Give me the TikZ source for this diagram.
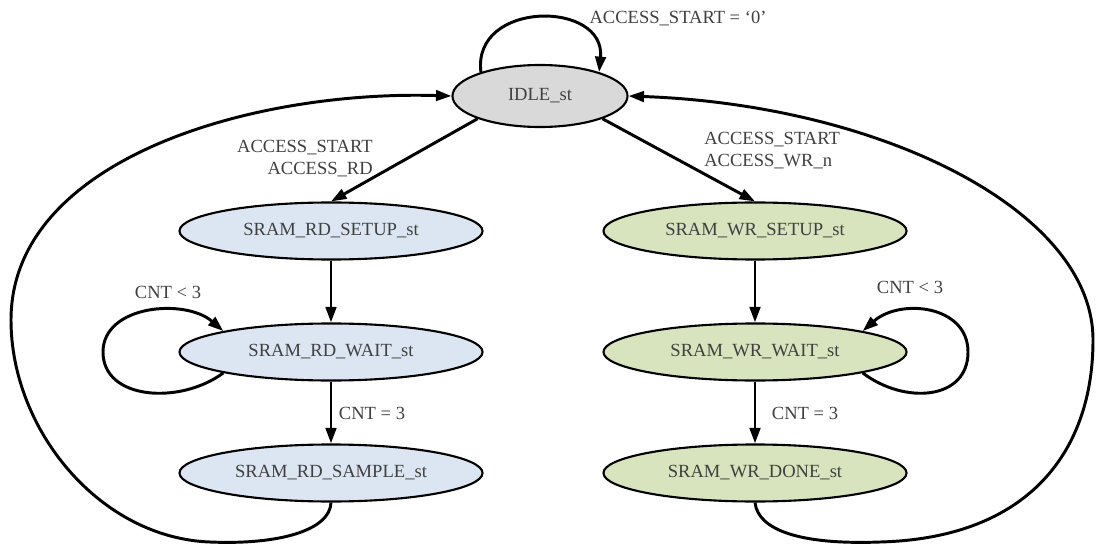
\documentclass[tikz,border=0pt]{standalone}
\usepackage{fontspec}
\setmainfont{Liberation Serif}
\usetikzlibrary{shapes.geometric, arrows.meta}
\definecolor{idlegray}{HTML}{D9D9D9}
\definecolor{rdblue}{HTML}{DCE6F2}
\definecolor{wrgreen}{HTML}{D7E4BD}
\definecolor{txtgray}{HTML}{404040}

\begin{document}
\begin{tikzpicture}[x=0.025cm, y=-0.025cm,
	state/.style={ellipse, draw=black, line width=1.5pt, inner sep=0pt,
		minimum width=7.575cm, minimum height=1.425cm, text=txtgray,
		font=\fontsize{13.2}{15.6}\selectfont},
	trans/.style={line width=2.1pt, -{Triangle[length=11pt, width=7.5pt]}},
	cond/.style={text=txtgray, inner sep=0pt, font=\fontsize{13.2}{15.6}\selectfont}]
	\useasboundingbox (0,0) rectangle (1097,544);
	% States:
	\node[state, fill=idlegray, minimum width=4.375cm, minimum height=1.55cm] (idle) at (540, 96) {IDLE\_st};
	\node[state, fill=rdblue] (rdsetup) at (331, 231) {SRAM\_RD\_SETUP\_st};
	\node[state, fill=rdblue] (rdwait) at (331, 352) {SRAM\_RD\_WAIT\_st};
	\node[state, fill=rdblue] (rdsample) at (331, 473) {SRAM\_RD\_SAMPLE\_st};
	\node[state, fill=wrgreen] (wrsetup) at (755, 231) {SRAM\_WR\_SETUP\_st};
	\node[state, fill=wrgreen] (wrwait) at (755, 352) {SRAM\_WR\_WAIT\_st};
	\node[state, fill=wrgreen] (wrdone) at (755, 473) {SRAM\_WR\_DONE\_st};
	% Conditions:
	\node[cond] (idlecond) at (678, 19) {ACCESS\_START = ‘0’};
	\node[cond, align=right, anchor=east] (rdcond) at (373, 159) {ACCESS\_START\\ACCESS\_RD};
	\node[cond, align=left, anchor=west] (wrcond) at (704, 151) {ACCESS\_START\\ACCESS\_WR\_n};
	\node[cond] (rdless) at (168, 292) {CNT < 3};
	\node[cond] (rdeq) at (372, 413) {CNT = 3};
	\node[cond] (wrless) at (910, 287) {CNT < 3};
	\node[cond] (wreq) at (805, 413) {CNT = 3};
	% Transitions:
	\draw[trans] (idle.158) .. controls (472, 0) and (606, 0) .. (idle.22);
	\draw[trans] (idle.200) -- (rdsetup.north);
	\draw[trans] (idle.340) -- (wrsetup.north);
	\draw[trans] (rdsetup) -- (rdwait);
	\draw[trans] (rdwait) -- (rdsample);
	\draw[trans] (wrsetup) -- (wrwait);
	\draw[trans] (wrwait) -- (wrdone);
	\draw[trans] (rdwait.191) .. controls (180, 405) and (103, 400) .. (103, 352)
		.. controls (103, 305) and (185, 298) .. (rdwait.169);
	\draw[trans] (wrwait.349) .. controls (905, 405) and (968, 400) .. (968, 352)
		.. controls (968, 305) and (900, 298) .. (wrwait.11);
	\draw[trans] (rdsample.south) .. controls (330, 530) and (280, 545) .. (210, 542)
		.. controls (100, 538) and (11, 430) .. (11, 320)
		.. controls (11, 160) and (250, 90) .. (idle.west);
	\draw[trans] (wrdone.south) .. controls (758, 530) and (800, 545) .. (880, 542)
		.. controls (1030, 538) and (1093, 450) .. (1093, 340)
		.. controls (1093, 210) and (880, 105) .. (idle.east);
\end{tikzpicture}
\end{document}
